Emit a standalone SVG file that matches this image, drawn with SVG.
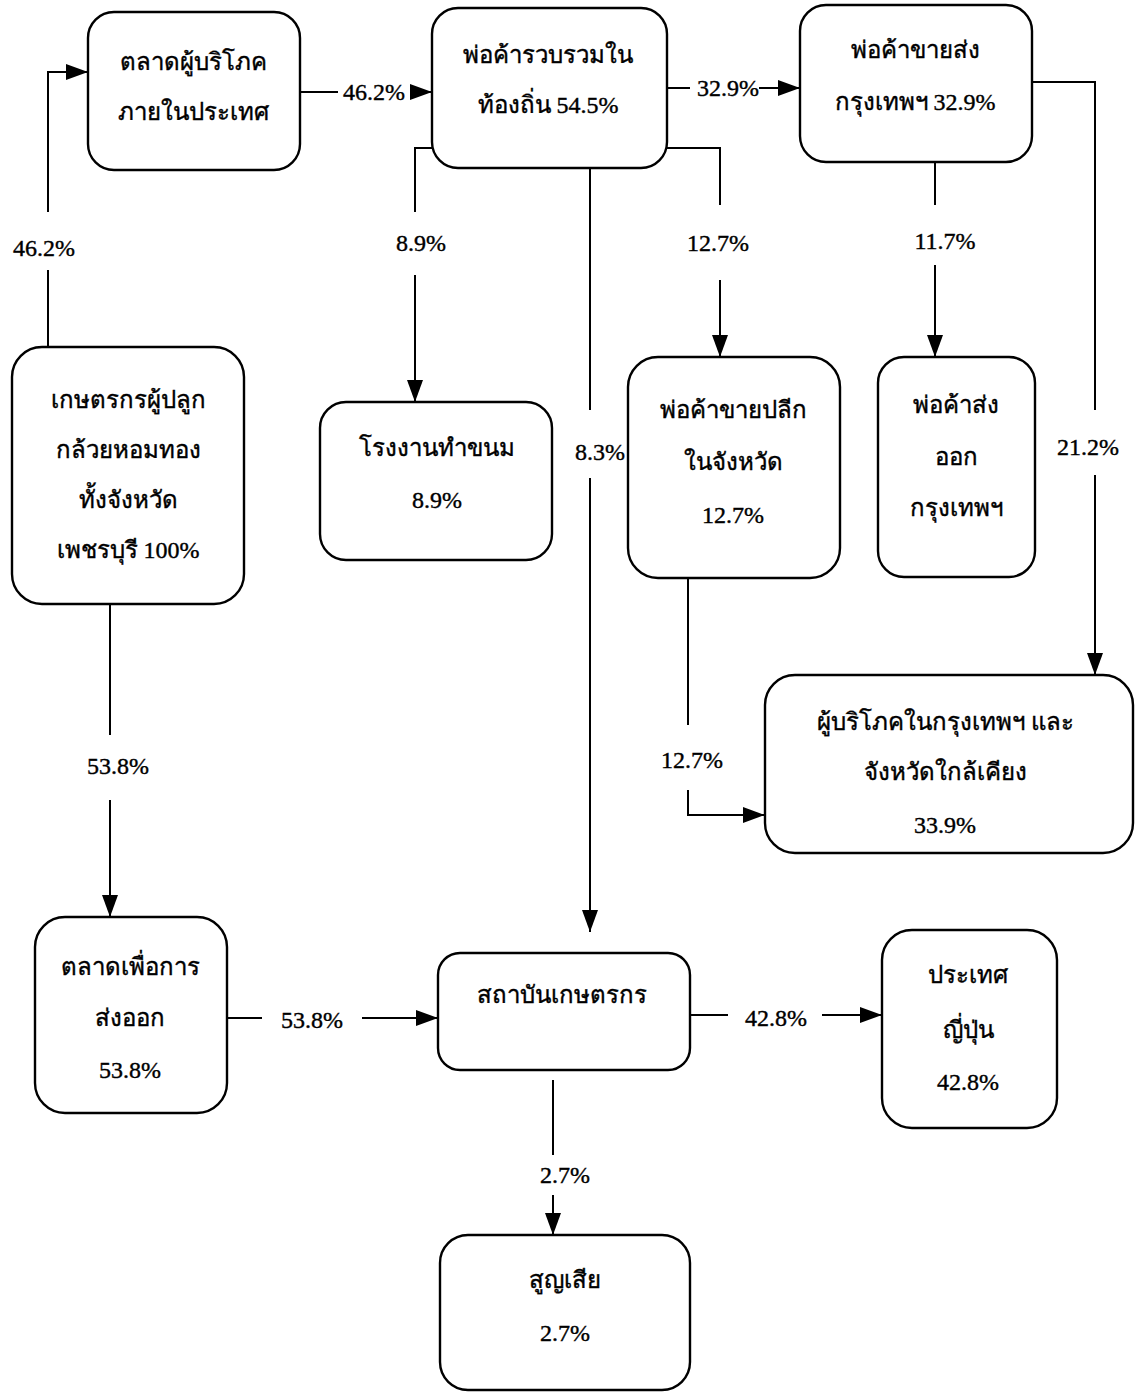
<svg xmlns="http://www.w3.org/2000/svg" width="1140" height="1392" viewBox="0 0 1140 1392">
<style>
.box{fill:#fff;stroke:#000;stroke-width:2.4}
.ln{fill:none;stroke:#000;stroke-width:2}
.t{font-family:"Liberation Serif","Noto Sans","DejaVu Sans",serif;font-size:24px;fill:#000;stroke:#000;stroke-width:0.4;text-anchor:middle}
</style>
<defs>
<marker id="ah" viewBox="0 0 22 16" refX="22" refY="8" markerWidth="22" markerHeight="16" orient="auto" markerUnits="userSpaceOnUse"><path d="M0,0 L22,8 L0,16 z" fill="#000"/></marker>
</defs>
<rect width="1140" height="1392" fill="#fff"/>
<g id="connectors">
<path class="ln" d="M48,347 V270"/><path class="ln" d="M48,212 V72 H88" marker-end="url(#ah)"/>
<text class="t" x="44" y="256">46.2%</text>
<path class="ln" d="M300,92 H338"/><path class="ln" d="M410,92 H432" marker-end="url(#ah)"/>
<text class="t" x="374" y="100">46.2%</text>
<path class="ln" d="M667,88 H690"/><path class="ln" d="M759,88 H800" marker-end="url(#ah)"/>
<text class="t" x="728" y="96">32.9%</text>
<path class="ln" d="M432,148 H415 V212"/><path class="ln" d="M415,275 V402" marker-end="url(#ah)"/>
<text class="t" x="421" y="251">8.9%</text>
<path class="ln" d="M590,168 V410"/><path class="ln" d="M590,478 V932" marker-end="url(#ah)"/>
<text class="t" x="600" y="460">8.3%</text>
<path class="ln" d="M667,148 H720 V205"/><path class="ln" d="M720,280 V357" marker-end="url(#ah)"/>
<text class="t" x="718" y="251">12.7%</text>
<path class="ln" d="M935,162 V205"/><path class="ln" d="M935,265 V357" marker-end="url(#ah)"/>
<text class="t" x="945" y="249">11.7%</text>
<path class="ln" d="M1032,82 H1095 V410"/><path class="ln" d="M1095,475 V675" marker-end="url(#ah)"/>
<text class="t" x="1088" y="455">21.2%</text>
<path class="ln" d="M688,578 V725"/><path class="ln" d="M688,790 V815 H765" marker-end="url(#ah)"/>
<text class="t" x="692" y="768">12.7%</text>
<path class="ln" d="M110,604 V735"/><path class="ln" d="M110,800 V917" marker-end="url(#ah)"/>
<text class="t" x="118" y="774">53.8%</text>
<path class="ln" d="M227,1018 H262"/><path class="ln" d="M362,1018 H438" marker-end="url(#ah)"/>
<text class="t" x="312" y="1028">53.8%</text>
<path class="ln" d="M690,1015 H728"/><path class="ln" d="M822,1015 H882" marker-end="url(#ah)"/>
<text class="t" x="776" y="1026">42.8%</text>
<path class="ln" d="M553,1080 V1155"/><path class="ln" d="M553,1195 V1235" marker-end="url(#ah)"/>
<text class="t" x="565" y="1183">2.7%</text>
</g>
<g id="nA"><rect class="box" x="88" y="12" width="212" height="158" rx="26"/>
<text class="t" x="193" y="70">ตลาดผู้บริโภค</text><text class="t" x="193" y="120">ภายในประเทศ</text></g>
<g id="nB"><rect class="box" x="432" y="8" width="235" height="160" rx="26"/>
<text class="t" x="548" y="63">พ่อค้ารวบรวมใน</text><text class="t" x="548" y="113">ท้องถิ่น 54.5%</text></g>
<g id="nC"><rect class="box" x="800" y="5" width="232" height="157" rx="26"/>
<text class="t" x="915" y="58">พ่อค้าขายส่ง</text><text class="t" x="915" y="110">กรุงเทพฯ 32.9%</text></g>
<g id="nD"><rect class="box" x="12" y="347" width="232" height="257" rx="30"/>
<text class="t" x="128" y="408">เกษตรกรผู้ปลูก</text><text class="t" x="128" y="458">กล้วยหอมทอง</text><text class="t" x="128" y="508">ทั้งจังหวัด</text><text class="t" x="128" y="558">เพชรบุรี 100%</text></g>
<g id="nE"><rect class="box" x="320" y="402" width="232" height="158" rx="26"/>
<text class="t" x="437" y="456">โรงงานทำขนม</text><text class="t" x="437" y="508">8.9%</text></g>
<g id="nF"><rect class="box" x="628" y="357" width="212" height="221" rx="30"/>
<text class="t" x="733" y="418">พ่อค้าขายปลีก</text><text class="t" x="733" y="470">ในจังหวัด</text><text class="t" x="733" y="523">12.7%</text></g>
<g id="nG"><rect class="box" x="878" y="357" width="157" height="220" rx="26"/>
<text class="t" x="956" y="413">พ่อค้าส่ง</text><text class="t" x="956" y="465">ออก</text><text class="t" x="956" y="516">กรุงเทพฯ</text></g>
<g id="nH"><rect class="box" x="765" y="675" width="368" height="178" rx="30"/>
<text class="t" x="945" y="730">ผู้บริโภคในกรุงเทพฯ และ</text><text class="t" x="945" y="780">จังหวัดใกล้เคียง</text><text class="t" x="945" y="833">33.9%</text></g>
<g id="nI"><rect class="box" x="35" y="917" width="192" height="196" rx="30"/>
<text class="t" x="130" y="975">ตลาดเพื่อการ</text><text class="t" x="130" y="1026">ส่งออก</text><text class="t" x="130" y="1078">53.8%</text></g>
<g id="nJ"><rect class="box" x="438" y="953" width="252" height="117" rx="22"/>
<text class="t" x="562" y="1003">สถาบันเกษตรกร</text></g>
<g id="nK"><rect class="box" x="882" y="930" width="175" height="198" rx="30"/>
<text class="t" x="968" y="983">ประเทศ</text><text class="t" x="968" y="1038">ญี่ปุ่น</text><text class="t" x="968" y="1090">42.8%</text></g>
<g id="nL"><rect class="box" x="440" y="1235" width="250" height="155" rx="28"/>
<text class="t" x="565" y="1288">สูญเสีย</text><text class="t" x="565" y="1341">2.7%</text></g>
</svg>
